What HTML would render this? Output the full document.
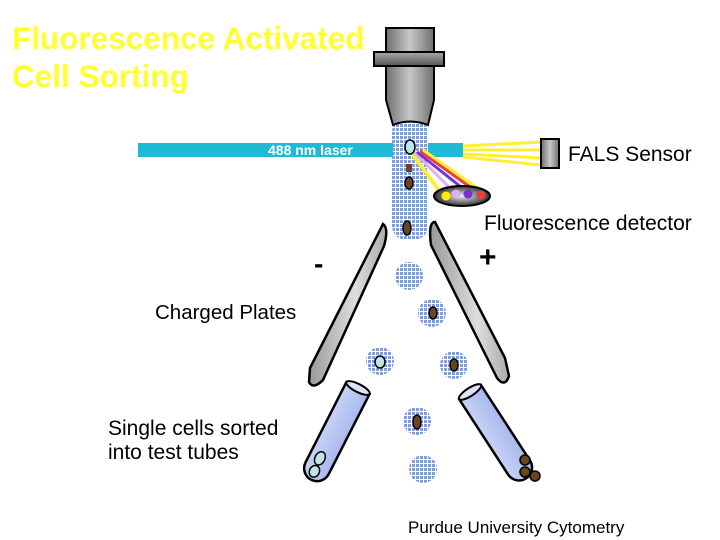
<!DOCTYPE html>
<html><head><meta charset="utf-8"><style>
html,body{margin:0;padding:0;background:#fff;}
svg{display:block;font-family:"Liberation Sans",Arial,sans-serif;}
</style></head><body>
<svg width="720" height="540" viewBox="0 0 720 540" xmlns="http://www.w3.org/2000/svg">
<defs>
<pattern id="dots" width="4" height="4" patternUnits="userSpaceOnUse">
<rect width="4" height="4" fill="#fff"/>
<rect width="3" height="3" fill="#7f9fd8"/>
</pattern>
<linearGradient id="gray" x1="0" x2="1" y1="0" y2="0">
<stop offset="0" stop-color="#6e6e6e"/><stop offset="0.5" stop-color="#c8c8c8"/><stop offset="1" stop-color="#6e6e6e"/>
</linearGradient>
<linearGradient id="gray2" x1="0" x2="0" y1="0" y2="1">
<stop offset="0" stop-color="#aaa"/><stop offset="1" stop-color="#555"/>
</linearGradient>
<linearGradient id="plate" x1="0" x2="1">
<stop offset="0" stop-color="#999"/><stop offset="0.6" stop-color="#ddd"/><stop offset="1" stop-color="#aaa"/>
</linearGradient>
<radialGradient id="det"><stop offset="0" stop-color="#eee"/><stop offset="1" stop-color="#333"/></radialGradient>
<linearGradient id="tube" x1="0" x2="1"><stop offset="0" stop-color="#c8d2f5"/><stop offset="1" stop-color="#a9b8ee"/></linearGradient>
</defs>

<text x="12" y="49" font-size="31.5" font-weight="bold" fill="#ffff33">Fluorescence Activated</text>
<text x="12" y="87" font-size="31.5" font-weight="bold" fill="#ffff33">Cell Sorting</text>

<!-- stream -->
<rect x="392" y="118" width="36" height="122" rx="14" fill="url(#dots)"/>
<!-- nozzle -->
<rect x="386" y="28" width="48" height="26" fill="url(#gray)" stroke="#000" stroke-width="2"/>
<path d="M386 66 L434 66 L434 100 L428 125 Q410 118 393 125 L386 100 Z" fill="url(#gray)" stroke="#000" stroke-width="2"/>
<rect x="374" y="52" width="70" height="14" fill="url(#gray2)" stroke="#000" stroke-width="2"/>

<!-- laser -->
<rect x="138" y="143" width="255" height="14" fill="#1ebad6"/>
<rect x="428" y="143" width="35" height="14" fill="#1ebad6"/>
<text x="268" y="155" font-size="14" font-weight="bold" fill="#fff">488 nm laser</text>
<g stroke="#ffee33" stroke-width="3">
<line x1="463" y1="146" x2="541" y2="142"/><line x1="463" y1="150" x2="541" y2="150"/>
<line x1="463" y1="154" x2="541" y2="158"/><line x1="463" y1="157" x2="541" y2="165"/>
</g>
<rect x="541" y="139" width="18" height="29" fill="url(#gray)" stroke="#000" stroke-width="2"/>
<text x="568" y="161" font-size="21" fill="#000">FALS Sensor</text>

<!-- fluorescence rays -->
<line x1="411" y1="152" x2="443" y2="196" stroke="#ffee33" stroke-width="4"/>
<line x1="414" y1="152" x2="455" y2="193" stroke="#d8b0ff" stroke-width="3"/>
<line x1="417" y1="152" x2="466" y2="191" stroke="#7a2fd8" stroke-width="3"/>
<line x1="420" y1="151" x2="477" y2="192" stroke="#e84040" stroke-width="3"/>
<line x1="423" y1="150" x2="483" y2="192" stroke="#ffee33" stroke-width="3"/>
<ellipse cx="462" cy="196" rx="28" ry="10" fill="url(#det)" stroke="#000" stroke-width="2"/>
<circle cx="446" cy="196" r="4.5" fill="#ffee00"/><circle cx="456" cy="194" r="4.5" fill="#d8b0ff"/>
<circle cx="468" cy="194" r="4.5" fill="#7a2fd8"/><circle cx="481" cy="195" r="4.5" fill="#e84040"/>
<text x="484" y="230" font-size="21" fill="#000">Fluorescence detector</text>

<!-- droplets -->
<g fill="url(#dots)">
<circle cx="408" cy="226" r="14"/><circle cx="409" cy="276" r="14"/><circle cx="432" cy="313" r="14"/>
<circle cx="380" cy="361" r="14"/><circle cx="454" cy="365" r="14"/><circle cx="417" cy="421" r="14"/><circle cx="423" cy="469" r="14"/>
</g>
<!-- cells -->
<g stroke="#000" stroke-width="1.5">
<ellipse cx="410" cy="147" rx="5" ry="7" fill="#bfe6e6"/>
<ellipse cx="409" cy="183" rx="4" ry="6" fill="#6b4420"/>
<ellipse cx="407" cy="228" rx="4" ry="7" fill="#6b4420"/>
<ellipse cx="433" cy="313" rx="4" ry="6" fill="#6b4420"/>
<ellipse cx="380" cy="362" rx="5" ry="6" fill="#bfe6e6"/>
<ellipse cx="454" cy="365" rx="4" ry="6" fill="#6b4420"/>
<ellipse cx="417" cy="422" rx="4" ry="7" fill="#6b4420"/>
</g>
<rect x="406" y="164" width="6" height="8" fill="#6b4420"/>

<!-- plates -->
<path d="M383 224 Q389 228 384 246 L323 380 Q313 390 309 382 L310 368 Z" fill="url(#plate)" stroke="#000" stroke-width="2.5"/>
<path d="M435 222 Q428 222 431 245 L497 378 Q505 388 509 376 L505 358 Z" fill="url(#plate)" stroke="#000" stroke-width="2.5"/>
<text x="314" y="273" font-size="28" font-weight="bold">-</text>
<text x="479" y="267" font-size="30" font-weight="bold">+</text>
<text x="155" y="319" font-size="20.5">Charged Plates</text>

<!-- tubes -->
<g transform="translate(358,388) rotate(27)">
<path d="M-13 0 L-13 90 A13 13 0 0 0 13 90 L13 0 Z" fill="url(#tube)" stroke="#000" stroke-width="2.5"/>
<ellipse cx="0" cy="0" rx="13" ry="4" fill="#dde4fa" stroke="#000" stroke-width="2"/>
<ellipse cx="-2" cy="80" rx="5" ry="7" fill="#bfe6e6" stroke="#000" stroke-width="1.5"/>
<ellipse cx="-1" cy="94" rx="5" ry="6" fill="#bfe6e6" stroke="#000" stroke-width="1.5"/>
</g>
<g transform="translate(470,392) rotate(-33)">
<path d="M-13 0 L-13 90 A13 13 0 0 0 13 90 L13 0 Z" fill="url(#tube)" stroke="#000" stroke-width="2.5"/>
<ellipse cx="0" cy="0" rx="13" ry="4" fill="#dde4fa" stroke="#000" stroke-width="2"/>
</g>
<g stroke="#000" stroke-width="1.5" fill="#6b4420">
<circle cx="525" cy="460" r="5"/><circle cx="525" cy="472" r="5"/><circle cx="535" cy="476" r="5"/>
</g>

<text x="108" y="435" font-size="21">Single cells sorted</text>
<text x="108" y="459" font-size="21">into test tubes</text>
<text x="408" y="533" font-size="17">Purdue University Cytometry</text>
</svg>
</body></html>
